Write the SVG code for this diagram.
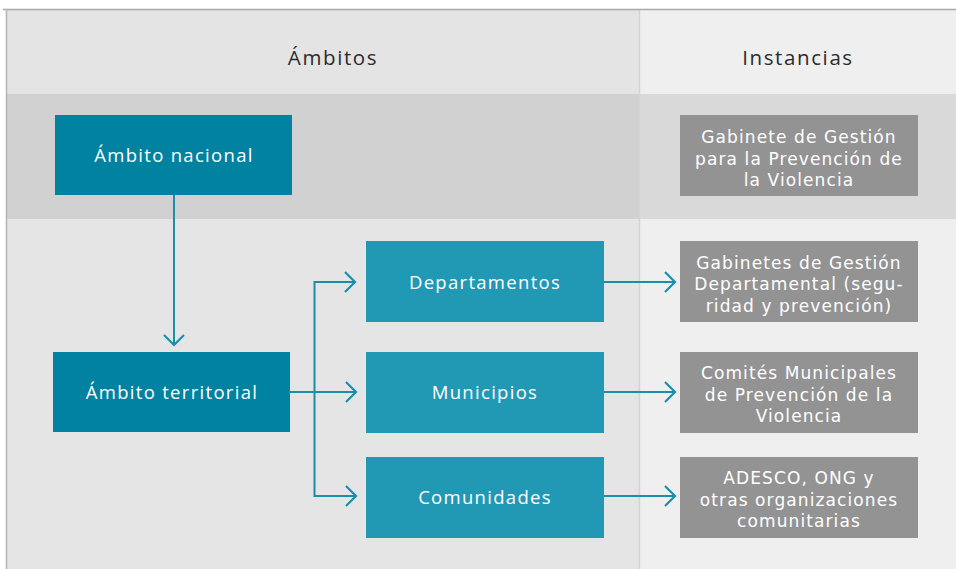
<svg xmlns="http://www.w3.org/2000/svg" width="956" height="569" viewBox="0 0 956 569">
<style>
.hdr{font-family:"Open Sans","Noto Sans",sans-serif;font-size:20.5px;fill:#2b2b2b;text-anchor:middle;letter-spacing:1.6px}
.lbl{font-family:"Open Sans","Noto Sans",sans-serif;font-size:18.5px;fill:#ffffff;text-anchor:middle;letter-spacing:1.3px}
.ml{font-family:"DejaVu Sans","Open Sans",sans-serif;font-size:17px;fill:#ffffff;text-anchor:middle;letter-spacing:1.1px}
.dk{fill:#0082a0}
.lt{fill:#2199b4}
.gr{fill:#939394}
.conn{fill:none;stroke:#1b8eab;stroke-width:2}
</style>
<defs>
<marker id="chev" markerWidth="14" markerHeight="22" refX="11" refY="11" orient="auto" markerUnits="userSpaceOnUse">
<path d="M1,1 L11,11 L1,21" fill="none" stroke="#1b8eab" stroke-width="2.2"/>
</marker>
</defs>
<rect x="0" y="0" width="956" height="569" fill="#ffffff"/>
<g id="background">
<rect x="6" y="10" width="633" height="84" fill="#e4e4e4"/>
<rect x="639" y="10" width="317" height="84" fill="#efefef"/>
<rect x="6" y="94" width="633" height="125" fill="#d1d1d1"/>
<rect x="639" y="94" width="317" height="125" fill="#d9d9d9"/>
<rect x="6" y="219" width="633" height="350" fill="#e5e5e5"/>
<rect x="639" y="219" width="317" height="350" fill="#efefef"/>
<line x1="639.5" y1="10" x2="639.5" y2="569" stroke="#d4d4d4" stroke-width="1.5"/>
<line x1="3" y1="9.5" x2="956" y2="9.5" stroke="#a8a8a8" stroke-width="1.5"/>
<line x1="6.5" y1="9" x2="6.5" y2="569" stroke="#b5b5b5" stroke-width="1.5"/>
<text class="hdr" x="333" y="65">Ámbitos</text>
<text class="hdr" x="798" y="65">Instancias</text>
</g>
<g id="connectors">
<line class="conn" x1="174" y1="195" x2="174" y2="345" marker-end="url(#chev)"/>
<line class="conn" x1="290" y1="392" x2="356" y2="392" marker-end="url(#chev)"/>
<polyline class="conn" points="355,282 314.5,282 314.5,496 356,496" marker-end="url(#chev)"/>
<path class="conn" d="M314.5,282 L355,282" marker-end="url(#chev)"/>
<line class="conn" x1="604" y1="282" x2="675" y2="282" marker-end="url(#chev)"/>
<line class="conn" x1="604" y1="392" x2="675" y2="392" marker-end="url(#chev)"/>
<line class="conn" x1="604" y1="496" x2="675" y2="496" marker-end="url(#chev)"/>
</g>
<g id="ambito-nacional">
<rect class="dk" x="55" y="115" width="237" height="80"/>
<text class="lbl" x="174" y="162">Ámbito nacional</text>
</g>
<g id="ambito-territorial">
<rect class="dk" x="53" y="352" width="237" height="80"/>
<text class="lbl" x="172" y="399">Ámbito territorial</text>
</g>
<g id="departamentos">
<rect class="lt" x="366" y="241" width="238" height="81"/>
<text class="lbl" x="485" y="289">Departamentos</text>
</g>
<g id="municipios">
<rect class="lt" x="366" y="352" width="238" height="81"/>
<text class="lbl" x="485" y="399">Municipios</text>
</g>
<g id="comunidades">
<rect class="lt" x="366" y="457" width="238" height="81"/>
<text class="lbl" x="485" y="504">Comunidades</text>
</g>
<g id="gabinete-gestion">
<rect class="gr" x="680" y="115" width="238" height="81"/>
<text class="ml" x="799" y="143">Gabinete de Gestión</text>
<text class="ml" x="799" y="164.5">para la Prevención de</text>
<text class="ml" x="799" y="186">la Violencia</text>
</g>
<g id="gabinetes-departamental">
<rect class="gr" x="680" y="241" width="238" height="81"/>
<text class="ml" x="799" y="269">Gabinetes de Gestión</text>
<text class="ml" x="799" y="290">Departamental (segu-</text>
<text class="ml" x="799" y="311.5">ridad y prevención)</text>
</g>
<g id="comites-municipales">
<rect class="gr" x="680" y="352" width="238" height="81"/>
<text class="ml" x="799" y="379">Comités Municipales</text>
<text class="ml" x="799" y="400.5">de Prevención de la</text>
<text class="ml" x="799" y="422">Violencia</text>
</g>
<g id="adesco">
<rect class="gr" x="680" y="457" width="238" height="81"/>
<text class="ml" x="799" y="484">ADESCO, ONG y</text>
<text class="ml" x="799" y="505.5">otras organizaciones</text>
<text class="ml" x="799" y="527">comunitarias</text>
</g>
</svg>
